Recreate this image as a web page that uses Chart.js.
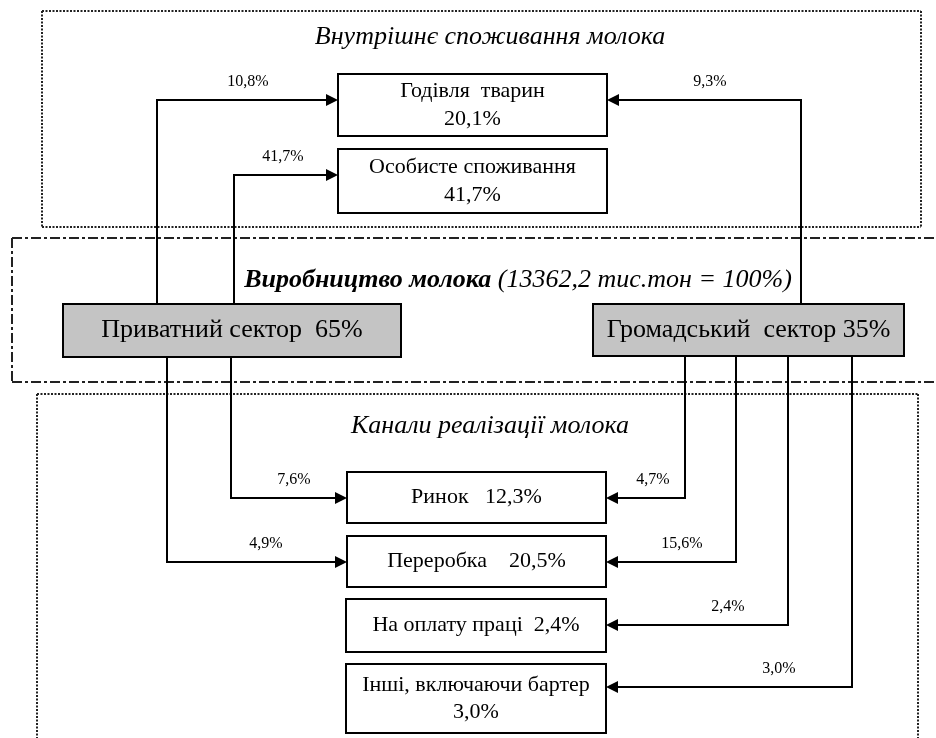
<!DOCTYPE html>
<html>
<head>
<meta charset="utf-8">
<script src="https://cdn.jsdelivr.net/npm/chart.js@4"></script>
<style>
  html, body { margin: 0; padding: 0; background: #fff; }
  #wrap { width: 936px; height: 738px; position: relative; }
</style>
</head>
<body>
<div id="wrap"><canvas id="flowChart"></canvas></div>
<script>
// Values (per cent of total milk output)
const totalOutput = 13362.2;
const sectorNames = ['Приватний сектор', 'Громадський  сектор'];
const sectorShares = [65, 35];
const useNames = ['Годівля  тварин', 'Особисте споживання'];
const useShares = [20.1, 41.7];
const channelNames = ['Ринок', 'Переробка', 'На оплату праці', 'Інші, включаючи бартер'];
const channelShares = [12.3, 20.5, 2.4, 3.0];
// flows sector -> target (null = no link)
const privateToUses = [10.8, 41.7];
const publicToUses = [9.3, null];
const privateToChannels = [7.6, 4.9, null, null];
const publicToChannels = [4.7, 15.6, 2.4, 3.0];
const frameTitles = ['Внутрішнє споживання молока', 'Виробництво молока', 'Канали реалізації молока'];

// Layout in diagram units (the x/y scales run 0..936 / 0..738)
const L = {
    topFrame: { x1: 42, y1: 11, x2: 921, y2: 227 },
    midFrame: { x1: 12, y1: 238, x2: 940, y2: 382 },
    botFrame: { x1: 37, y1: 394, x2: 918, y2: 760 },
    sectors: [ { x1: 63, y1: 304, x2: 401, y2: 357 }, { x1: 593, y1: 304, x2: 904, y2: 356 } ],
    uses: [ { x1: 338, y1: 74, x2: 607, y2: 136, sep: '\n' }, { x1: 338, y1: 149, x2: 607, y2: 213, sep: '\n' } ],
    channels: [
        { x1: 347, y1: 472, x2: 606, y2: 523, sep: '   ' },
        { x1: 347, y1: 536, x2: 606, y2: 587, sep: '    ' },
        { x1: 346, y1: 599, x2: 606, y2: 652, sep: '  ' },
        { x1: 346, y1: 664, x2: 606, y2: 733, sep: '\n' }
    ],
    useArrowY: [100, 175],
    chArrowY: [498, 562, 625, 687],
    // x of the vertical lane for each flow, label x
    privUseLanes: [157, 234], privUseLabels: [248, 283],
    pubUseLanes: [801, null], pubUseLabels: [710, null],
    privChLanes: [231, 167, null, null], privChLabels: [294, 266, null, null],
    pubChLanes: [685, 736, 788, 852], pubChLabels: [653, 682, 728, 779]
};

const fmt = v => v.toFixed(1).replace('.', ',');

const diagramPlugin = {
    id: 'diagram',
    afterDraw(chart) {
        const ctx = chart.ctx;
        const xs = chart.scales.x, ys = chart.scales.y;
        const px = v => xs.getPixelForValue(v);
        const py = v => ys.getPixelForValue(v);
        const serif = '"Liberation Serif", "Times New Roman", serif';

        ctx.save();
        ctx.lineCap = 'butt';

        // frames
        function frame(f, dash, sides) {
            ctx.beginPath();
            ctx.setLineDash(dash);
            ctx.strokeStyle = '#222';
            ctx.lineWidth = 2;
            const a = px(f.x1), b = px(f.x2), t = py(f.y1), u = py(f.y2);
            if (sides.includes('t')) { ctx.moveTo(a, t); ctx.lineTo(b, t); }
            if (sides.includes('b')) { ctx.moveTo(a, u); ctx.lineTo(b, u); }
            if (sides.includes('l')) { ctx.moveTo(a, t); ctx.lineTo(a, u); }
            if (sides.includes('r')) { ctx.moveTo(b, t); ctx.lineTo(b, u); }
            ctx.stroke();
        }
        frame(L.topFrame, [2, 1.5], 'tblr');
        frame(L.midFrame, [10, 3, 3, 3], 'tbl');
        frame(L.botFrame, [2, 1.5], 'tlr');
        ctx.setLineDash([]);

        // frame titles
        ctx.fillStyle = '#000';
        ctx.textBaseline = 'middle';
        ctx.textAlign = 'center';
        ctx.font = 'italic 26px ' + serif;
        ctx.fillText(frameTitles[0], px(490), py(37));
        ctx.fillText(frameTitles[2], px(490), py(426));

        const boldPart = frameTitles[1];
        const rest = ' (' + fmt(totalOutput) + ' тис.тон = 100%)';
        ctx.font = 'italic bold 26px ' + serif;
        const w1 = ctx.measureText(boldPart).width;
        ctx.font = 'italic 26px ' + serif;
        const w2 = ctx.measureText(rest).width;
        const start = px(518) - (w1 + w2) / 2;
        ctx.textAlign = 'left';
        ctx.font = 'italic bold 26px ' + serif;
        ctx.fillText(boldPart, start, py(280));
        ctx.font = 'italic 26px ' + serif;
        ctx.fillText(rest, start + w1, py(280));

        // connector: from sector box edge along lane, then horizontal to target box with arrow
        function connector(laneX, fromY, target, arrowY, toLeft, value, labelX) {
            const ty = py(arrowY);
            const lx = px(laneX);
            const tipX = toLeft ? px(target.x2) : px(target.x1);
            ctx.beginPath();
            ctx.strokeStyle = '#000';
            ctx.lineWidth = 2;
            ctx.moveTo(lx, py(fromY));
            ctx.lineTo(lx, ty);
            ctx.lineTo(tipX + (toLeft ? 10 : -10), ty);
            ctx.stroke();
            ctx.beginPath();
            ctx.fillStyle = '#000';
            const d = toLeft ? 1 : -1;
            ctx.moveTo(tipX, ty);
            ctx.lineTo(tipX + d * 12, ty - 6);
            ctx.lineTo(tipX + d * 12, ty + 6);
            ctx.closePath();
            ctx.fill();
            ctx.font = '16px ' + serif;
            ctx.textAlign = 'center';
            ctx.fillText(fmt(value) + '%', px(labelX), ty - 18);
        }

        privateToUses.forEach((v, i) => {
            if (v != null) connector(L.privUseLanes[i], L.sectors[0].y1, L.uses[i], L.useArrowY[i], false, v, L.privUseLabels[i]);
        });
        publicToUses.forEach((v, i) => {
            if (v != null) connector(L.pubUseLanes[i], L.sectors[1].y1, L.uses[i], L.useArrowY[i], true, v, L.pubUseLabels[i]);
        });
        privateToChannels.forEach((v, i) => {
            if (v != null) connector(L.privChLanes[i], L.sectors[0].y2, L.channels[i], L.chArrowY[i], false, v, L.privChLabels[i]);
        });
        publicToChannels.forEach((v, i) => {
            if (v != null) connector(L.pubChLanes[i], L.sectors[1].y2, L.channels[i], L.chArrowY[i], true, v, L.pubChLabels[i]);
        });

        // boxes
        function box(b, lines, fill, size) {
            const a = px(b.x1), t = py(b.y1), w = px(b.x2) - a, h = py(b.y2) - t;
            ctx.fillStyle = fill;
            ctx.fillRect(a, t, w, h);
            ctx.strokeStyle = '#000';
            ctx.lineWidth = 2;
            ctx.strokeRect(a, t, w, h);
            ctx.fillStyle = '#000';
            ctx.textAlign = 'center';
            ctx.font = size + 'px ' + serif;
            const lh = size * 1.25;
            const cy = t + h / 2 - (lines.length - 1) * lh / 2;
            lines.forEach((s, k) => ctx.fillText(s, a + w / 2, cy + k * lh));
        }
        sectorNames.forEach((n, i) => {
            const sep = i === 0 ? '  ' : ' ';
            box(L.sectors[i], [n + sep + sectorShares[i] + '%'], '#c4c4c4', 26);
        });
        useNames.forEach((n, i) => {
            box(L.uses[i], (n + L.uses[i].sep + fmt(useShares[i]) + '%').split('\n'), '#fff', 22);
        });
        channelNames.forEach((n, i) => {
            box(L.channels[i], (n + L.channels[i].sep + fmt(channelShares[i]) + '%').split('\n'), '#fff', 22);
        });

        ctx.restore();
    }
};

new Chart(document.getElementById('flowChart').getContext('2d'), {
    type: 'scatter',
    data: { datasets: [{ data: [] }] },
    options: {
        responsive: true,
        maintainAspectRatio: false,
        animation: false,
        events: [],
        layout: { padding: 0 },
        plugins: { legend: { display: false }, tooltip: { enabled: false } },
        scales: {
            x: { type: 'linear', min: 0, max: 936, display: false },
            y: { type: 'linear', min: 0, max: 738, reverse: true, display: false }
        }
    },
    plugins: [diagramPlugin]
});
</script>
</body>
</html>
